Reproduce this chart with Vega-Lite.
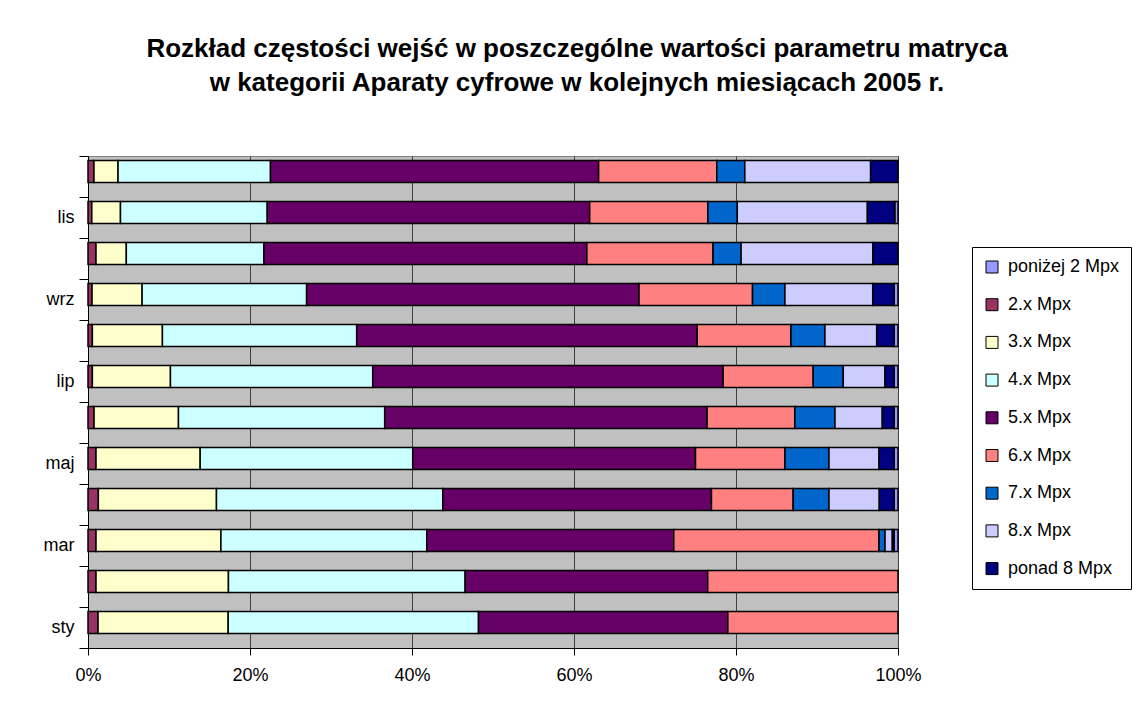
{
  "$schema": "https://vega.github.io/schema/vega-lite/v6.json",
  "width": 810,
  "height": 492,
  "autosize": {"type": "none"},
  "padding": {"left": 88, "top": 156, "right": 235, "bottom": 62},
  "background": "white",
  "title": {
    "text": ["Rozkład częstości wejść w poszczególne wartości parametru matryca", "w kategorii Aparaty cyfrowe w kolejnych miesiącach 2005 r."],
    "anchor": "middle",
    "frame": "group",
    "dx": 84,
    "offset": 51,
    "font": "Liberation Sans",
    "fontSize": 26,
    "fontWeight": "bold",
    "lineHeight": 34,
    "color": "black"
  },
  "config": {
    "view": {"fill": "#C0C0C0", "stroke": "#808080", "strokeWidth": 1},
    "font": "Liberation Sans"
  },
  "data": {
    "values": [
      {"miesiac": "gru", "kategoria": "2.x Mpx", "udzial": 0.74},
      {"miesiac": "gru", "kategoria": "3.x Mpx", "udzial": 2.97},
      {"miesiac": "gru", "kategoria": "4.x Mpx", "udzial": 18.82},
      {"miesiac": "gru", "kategoria": "5.x Mpx", "udzial": 40.51},
      {"miesiac": "gru", "kategoria": "6.x Mpx", "udzial": 14.59},
      {"miesiac": "gru", "kategoria": "7.x Mpx", "udzial": 3.46},
      {"miesiac": "gru", "kategoria": "8.x Mpx", "udzial": 15.53},
      {"miesiac": "gru", "kategoria": "ponad 8 Mpx", "udzial": 3.38},

      {"miesiac": "lis", "kategoria": "poniżej 2 Mpx", "udzial": 0.4},
      {"miesiac": "lis", "kategoria": "2.x Mpx", "udzial": 0.47},
      {"miesiac": "lis", "kategoria": "3.x Mpx", "udzial": 3.54},
      {"miesiac": "lis", "kategoria": "4.x Mpx", "udzial": 18.12},
      {"miesiac": "lis", "kategoria": "5.x Mpx", "udzial": 39.81},
      {"miesiac": "lis", "kategoria": "6.x Mpx", "udzial": 14.58},
      {"miesiac": "lis", "kategoria": "7.x Mpx", "udzial": 3.64},
      {"miesiac": "lis", "kategoria": "8.x Mpx", "udzial": 16.06},
      {"miesiac": "lis", "kategoria": "ponad 8 Mpx", "udzial": 3.38},

      {"miesiac": "paź", "kategoria": "2.x Mpx", "udzial": 0.99},
      {"miesiac": "paź", "kategoria": "3.x Mpx", "udzial": 3.74},
      {"miesiac": "paź", "kategoria": "4.x Mpx", "udzial": 16.99},
      {"miesiac": "paź", "kategoria": "5.x Mpx", "udzial": 39.87},
      {"miesiac": "paź", "kategoria": "6.x Mpx", "udzial": 15.58},
      {"miesiac": "paź", "kategoria": "7.x Mpx", "udzial": 3.46},
      {"miesiac": "paź", "kategoria": "8.x Mpx", "udzial": 16.28},
      {"miesiac": "paź", "kategoria": "ponad 8 Mpx", "udzial": 3.09},

      {"miesiac": "wrz", "kategoria": "poniżej 2 Mpx", "udzial": 0.49},
      {"miesiac": "wrz", "kategoria": "2.x Mpx", "udzial": 0.5},
      {"miesiac": "wrz", "kategoria": "3.x Mpx", "udzial": 6.18},
      {"miesiac": "wrz", "kategoria": "4.x Mpx", "udzial": 20.31},
      {"miesiac": "wrz", "kategoria": "5.x Mpx", "udzial": 41.04},
      {"miesiac": "wrz", "kategoria": "6.x Mpx", "udzial": 14.01},
      {"miesiac": "wrz", "kategoria": "7.x Mpx", "udzial": 4.0},
      {"miesiac": "wrz", "kategoria": "8.x Mpx", "udzial": 10.84},
      {"miesiac": "wrz", "kategoria": "ponad 8 Mpx", "udzial": 2.63},

      {"miesiac": "sie", "kategoria": "poniżej 2 Mpx", "udzial": 0.49},
      {"miesiac": "sie", "kategoria": "2.x Mpx", "udzial": 0.54},
      {"miesiac": "sie", "kategoria": "3.x Mpx", "udzial": 8.65},
      {"miesiac": "sie", "kategoria": "4.x Mpx", "udzial": 23.98},
      {"miesiac": "sie", "kategoria": "5.x Mpx", "udzial": 42.03},
      {"miesiac": "sie", "kategoria": "6.x Mpx", "udzial": 11.58},
      {"miesiac": "sie", "kategoria": "7.x Mpx", "udzial": 4.2},
      {"miesiac": "sie", "kategoria": "8.x Mpx", "udzial": 6.39},
      {"miesiac": "sie", "kategoria": "ponad 8 Mpx", "udzial": 2.14},

      {"miesiac": "lip", "kategoria": "poniżej 2 Mpx", "udzial": 0.49},
      {"miesiac": "lip", "kategoria": "2.x Mpx", "udzial": 0.54},
      {"miesiac": "lip", "kategoria": "3.x Mpx", "udzial": 9.64},
      {"miesiac": "lip", "kategoria": "4.x Mpx", "udzial": 24.97},
      {"miesiac": "lip", "kategoria": "5.x Mpx", "udzial": 43.26},
      {"miesiac": "lip", "kategoria": "6.x Mpx", "udzial": 11.12},
      {"miesiac": "lip", "kategoria": "7.x Mpx", "udzial": 3.71},
      {"miesiac": "lip", "kategoria": "8.x Mpx", "udzial": 5.16},
      {"miesiac": "lip", "kategoria": "ponad 8 Mpx", "udzial": 1.11},

      {"miesiac": "cze", "kategoria": "poniżej 2 Mpx", "udzial": 0.49},
      {"miesiac": "cze", "kategoria": "2.x Mpx", "udzial": 0.75},
      {"miesiac": "cze", "kategoria": "3.x Mpx", "udzial": 10.42},
      {"miesiac": "cze", "kategoria": "4.x Mpx", "udzial": 25.46},
      {"miesiac": "cze", "kategoria": "5.x Mpx", "udzial": 39.8},
      {"miesiac": "cze", "kategoria": "6.x Mpx", "udzial": 10.84},
      {"miesiac": "cze", "kategoria": "7.x Mpx", "udzial": 4.95},
      {"miesiac": "cze", "kategoria": "8.x Mpx", "udzial": 5.84},
      {"miesiac": "cze", "kategoria": "ponad 8 Mpx", "udzial": 1.45},

      {"miesiac": "maj", "kategoria": "poniżej 2 Mpx", "udzial": 0.49},
      {"miesiac": "maj", "kategoria": "2.x Mpx", "udzial": 0.99},
      {"miesiac": "maj", "kategoria": "3.x Mpx", "udzial": 12.86},
      {"miesiac": "maj", "kategoria": "4.x Mpx", "udzial": 26.24},
      {"miesiac": "maj", "kategoria": "5.x Mpx", "udzial": 34.91},
      {"miesiac": "maj", "kategoria": "6.x Mpx", "udzial": 11.04},
      {"miesiac": "maj", "kategoria": "7.x Mpx", "udzial": 5.44},
      {"miesiac": "maj", "kategoria": "8.x Mpx", "udzial": 6.18},
      {"miesiac": "maj", "kategoria": "ponad 8 Mpx", "udzial": 1.85},

      {"miesiac": "kwi", "kategoria": "poniżej 2 Mpx", "udzial": 0.49},
      {"miesiac": "kwi", "kategoria": "2.x Mpx", "udzial": 1.28},
      {"miesiac": "kwi", "kategoria": "3.x Mpx", "udzial": 14.58},
      {"miesiac": "kwi", "kategoria": "4.x Mpx", "udzial": 27.94},
      {"miesiac": "kwi", "kategoria": "5.x Mpx", "udzial": 33.17},
      {"miesiac": "kwi", "kategoria": "6.x Mpx", "udzial": 10.09},
      {"miesiac": "kwi", "kategoria": "7.x Mpx", "udzial": 4.42},
      {"miesiac": "kwi", "kategoria": "8.x Mpx", "udzial": 6.21},
      {"miesiac": "kwi", "kategoria": "ponad 8 Mpx", "udzial": 1.82},

      {"miesiac": "mar", "kategoria": "poniżej 2 Mpx", "udzial": 0.49},
      {"miesiac": "mar", "kategoria": "2.x Mpx", "udzial": 0.99},
      {"miesiac": "mar", "kategoria": "3.x Mpx", "udzial": 15.42},
      {"miesiac": "mar", "kategoria": "4.x Mpx", "udzial": 25.41},
      {"miesiac": "mar", "kategoria": "5.x Mpx", "udzial": 30.5},
      {"miesiac": "mar", "kategoria": "6.x Mpx", "udzial": 25.34},
      {"miesiac": "mar", "kategoria": "7.x Mpx", "udzial": 0.74},
      {"miesiac": "mar", "kategoria": "8.x Mpx", "udzial": 0.9},
      {"miesiac": "mar", "kategoria": "ponad 8 Mpx", "udzial": 0.21},

      {"miesiac": "lut", "kategoria": "2.x Mpx", "udzial": 0.99},
      {"miesiac": "lut", "kategoria": "3.x Mpx", "udzial": 16.35},
      {"miesiac": "lut", "kategoria": "4.x Mpx", "udzial": 29.22},
      {"miesiac": "lut", "kategoria": "5.x Mpx", "udzial": 29.95},
      {"miesiac": "lut", "kategoria": "6.x Mpx", "udzial": 23.49},

      {"miesiac": "sty", "kategoria": "2.x Mpx", "udzial": 1.24},
      {"miesiac": "sty", "kategoria": "3.x Mpx", "udzial": 16.07},
      {"miesiac": "sty", "kategoria": "4.x Mpx", "udzial": 30.9},
      {"miesiac": "sty", "kategoria": "5.x Mpx", "udzial": 30.78},
      {"miesiac": "sty", "kategoria": "6.x Mpx", "udzial": 21.01}
    ]
  },
  "mark": {"type": "bar", "stroke": "black", "strokeWidth": 1.5, "height": 22, "yOffset": -5},
  "encoding": {
    "y": {
      "field": "miesiac",
      "type": "nominal",
      "sort": ["gru", "lis", "paź", "wrz", "sie", "lip", "cze", "maj", "kwi", "mar", "lut", "sty"],
      "scale": {"paddingInner": 0, "paddingOuter": 0},
      "axis": {
        "title": null,
        "tickBand": "extent",
        "domainColor": "black",
        "tickColor": "black",
        "tickSize": 9,
        "labelPadding": 5,
        "labelFontSize": 18,
        "labelColor": "black",
        "labelExpr": "indexof(['sty','mar','maj','lip','wrz','lis'], datum.value) >= 0 ? datum.value : ''"
      }
    },
    "x": {
      "field": "udzial",
      "type": "quantitative",
      "stack": "normalize",
      "scale": {"domain": [0, 1]},
      "axis": {
        "title": null,
        "values": [0, 0.2, 0.4, 0.6, 0.8, 1],
        "format": ".0%",
        "labelFlush": false,
        "domainColor": "black",
        "tickColor": "black",
        "tickSize": 7,
        "labelPadding": 11,
        "labelFontSize": 18,
        "labelColor": "black",
        "grid": true,
        "gridColor": "#404040",
        "gridWidth": 1
      }
    },
    "color": {
      "field": "kategoria",
      "type": "nominal",
      "sort": ["poniżej 2 Mpx", "2.x Mpx", "3.x Mpx", "4.x Mpx", "5.x Mpx", "6.x Mpx", "7.x Mpx", "8.x Mpx", "ponad 8 Mpx"],
      "scale": {
        "domain": ["poniżej 2 Mpx", "2.x Mpx", "3.x Mpx", "4.x Mpx", "5.x Mpx", "6.x Mpx", "7.x Mpx", "8.x Mpx", "ponad 8 Mpx"],
        "range": ["#9999FF", "#993366", "#FFFFCC", "#CCFFFF", "#660066", "#FF8080", "#0066CC", "#CCCCFF", "#000080"]
      },
      "legend": {
        "title": null,
        "orient": "none",
        "legendX": 884,
        "legendY": 91,
        "direction": "vertical",
        "padding": 11,
        "strokeColor": "black",
        "fillColor": "white",
        "symbolType": "square",
        "symbolSize": 144,
        "symbolStrokeColor": "black",
        "symbolStrokeWidth": 1,
        "symbolOpacity": 1,
        "labelFontSize": 18,
        "labelColor": "black",
        "labelOffset": 7,
        "rowPadding": 19.7,
        "labelLimit": 300
      }
    }
  }
}
